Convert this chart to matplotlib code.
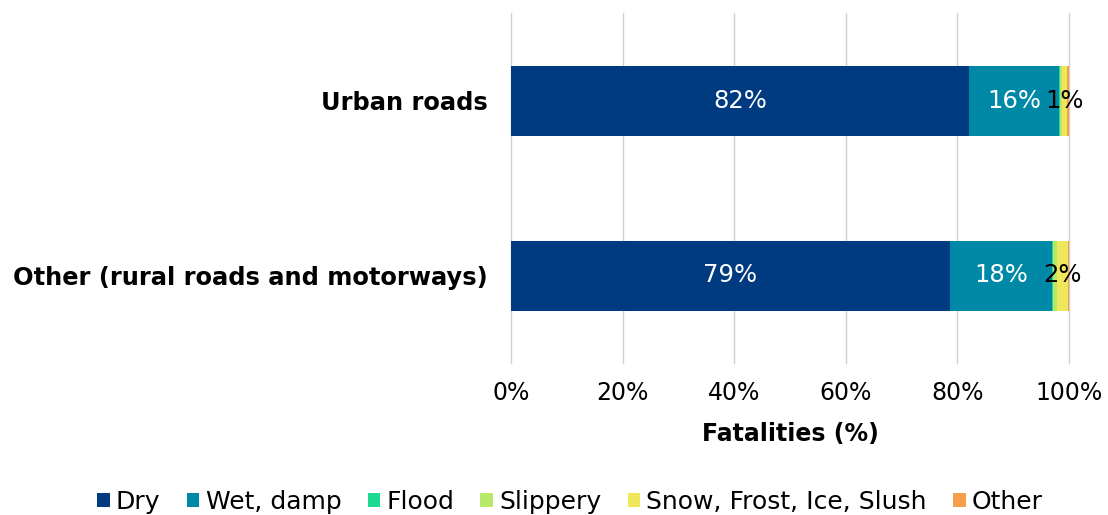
import matplotlib
matplotlib.use("Agg")
import matplotlib.pyplot as plt
import numpy as np

categories = ["Urban roads", "Other (rural roads and motorways)"]
series_names = ["Dry", "Wet, damp", "Flood", "Slippery", "Snow, Frost, Ice, Slush", "Other"]
dry = [82.1, 78.6]
wet = [16.1, 18.4]
flood = [0.1, 0.1]
slippery = [0.4, 0.7]
snow = [1.0, 2.0]
other = [0.3, 0.2]
colors = ["#003A80", "#0089A6", "#1ED990", "#B8E86A", "#F0E65A", "#F59E4C"]
text_colors = ["white", "white", "black", "black", "black", "black"]
xticks = [0, 20, 40, 60, 80, 100]

series = [dry, wet, flood, slippery, snow, other]
FS = 17

fig = plt.figure(figsize=(11.08, 5.15), dpi=100)
ax = fig.add_axes([511/1108, 1-363/515, 558/1108, 350/515])

y = np.arange(len(categories))
left = np.zeros(len(categories))
for name, vals, c, tc in zip(series_names, series, colors, text_colors):
    vals = np.array(vals)
    ax.barh(y, vals, left=left, height=0.4, color=c, label=name, zorder=3)
    for yi, v, l in zip(y, vals, left):
        if v >= 1:
            ax.text(l + v/2, yi, f"{v:.0f}%", ha="center", va="center",
                    color=tc, fontsize=17.5, zorder=4)
    left += vals

ax.set_xlim(0, 100)
ax.set_ylim(1.5, -0.5)
ax.set_yticks(y)
ax.set_yticklabels(categories, fontsize=17.4, fontweight="bold")
ax.set_xticks(xticks)
ax.set_xticklabels([f"{t}%" for t in xticks], fontsize=FS)
ax.tick_params(axis="both", length=0)
ax.tick_params(axis="y", pad=17)
ax.tick_params(axis="x", pad=13)
for t in xticks:
    ax.axvline(t, color="#D0D0D0", linewidth=1, zorder=0, clip_on=False)
for s in ax.spines.values():
    s.set_visible(False)
ax.set_xlabel("Fatalities (%)", fontsize=FS, fontweight="bold", labelpad=12)

handles, labels = ax.get_legend_handles_labels()
fig.legend(handles, labels, loc="center", bbox_to_anchor=(570/1108, 1-502/515),
           ncol=6, frameon=False, fontsize=18, handlelength=0.5, handleheight=0.5,
           handletextpad=0.25, columnspacing=1.05, borderaxespad=0, borderpad=0)

fig.savefig("out.png", dpi=100)
